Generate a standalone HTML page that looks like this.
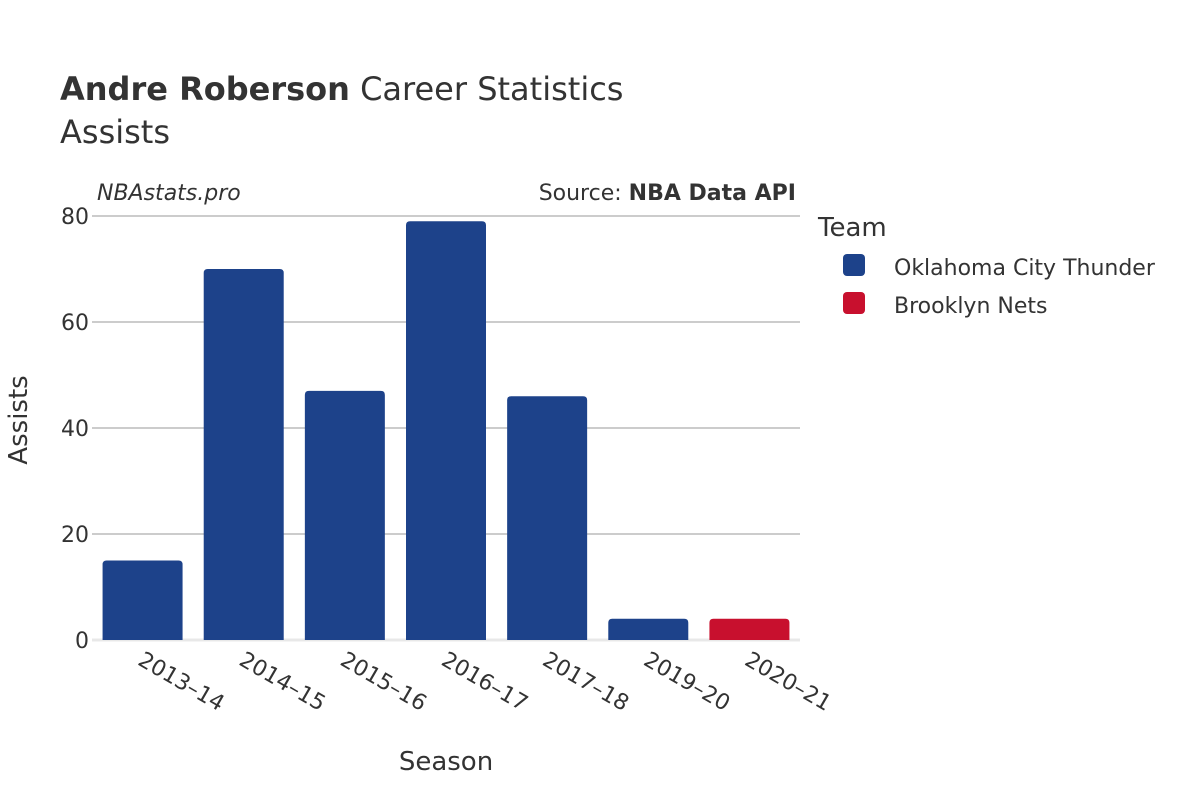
<!DOCTYPE html>
<html><head><meta charset="utf-8"><style>
body{margin:0;background:#fff}
svg text{font-family:"DejaVu Sans","Liberation Sans",sans-serif;fill:#333}
</style></head><body>
<svg id="chart" width="1200" height="800">
<text x="60" y="100" font-size="32"><tspan font-weight="bold">Andre Roberson</tspan> Career Statistics</text>
<text x="60" y="143" font-size="32">Assists</text>
<text x="97" y="200" font-size="22" font-style="italic">NBAstats.pro</text>
<text x="796" y="200" font-size="22" text-anchor="end">Source: <tspan font-weight="bold">NBA Data API</tspan></text>
<g id="grid"></g><g id="bars"></g><g id="xt"></g>
<text x="446" y="770" font-size="26" text-anchor="middle">Season</text>
<text transform="translate(27,420) rotate(-90)" font-size="26" text-anchor="middle">Assists</text>
<text x="818" y="236" font-size="26">Team</text>
<rect x="843" y="254" width="22" height="22" rx="4" fill="#1d428a"/>
<text x="894" y="275" font-size="22">Oklahoma City Thunder</text>
<rect x="843" y="292" width="22" height="22" rx="4" fill="#c8102e"/>
<text x="894" y="313" font-size="22">Brooklyn Nets</text>
</svg>
<script>
const seasons=["2013–14","2014–15","2015–16","2016–17","2017–18","2019–20","2020–21"];
const assists=[15,70,47,79,46,4,4];
const teams=["okc","okc","okc","okc","okc","okc","bkn"];
const yTicks=[0,20,40,60,80];
const colors={okc:"#1d428a",bkn:"#c8102e"};
const NS="http://www.w3.org/2000/svg";
const x0=92,x1=800,y0=640,y1=216,yMax=80;
const y=v=>y0-(y0-y1)*v/yMax;
const bw=(x1-x0)/seasons.length;
function mk(t,a,p){const e=document.createElementNS(NS,t);for(const k in a)e.setAttribute(k,a[k]);p.appendChild(e);return e;}
const g=document.getElementById('grid');
yTicks.forEach(v=>{
  const l=mk('line',{x1:x0,x2:x1,y1:y(v),y2:y(v),stroke:v===0?'#e8e8e8':'#999','stroke-width':v===0?3:1},g);
  
  
  const t=mk('text',{x:x0-3,y:y(v)+8,'font-size':22,'text-anchor':'end'},g);
  t.textContent=v;
  
  
});
const b=document.getElementById('bars'),xt=document.getElementById('xt');
seasons.forEach((s,i)=>{
  const cx=x0+bw*(i+0.5),w=80,top=y(assists[i]),h=y0-top,r=Math.min(4,h/2);
  const p=mk('path',{d:`M${cx-w/2},${y0}V${top+r}Q${cx-w/2},${top} ${cx-w/2+r},${top}H${cx+w/2-r}Q${cx+w/2},${top} ${cx+w/2},${top+r}V${y0}Z`,fill:colors[teams[i]]},b);
  
  
  const t=mk('text',{x:0,y:0,'font-size':22,transform:`translate(${cx-6},${y0+24}) rotate(30)`},xt);
  t.textContent=s;
  
  
});
</script>
</body></html>
